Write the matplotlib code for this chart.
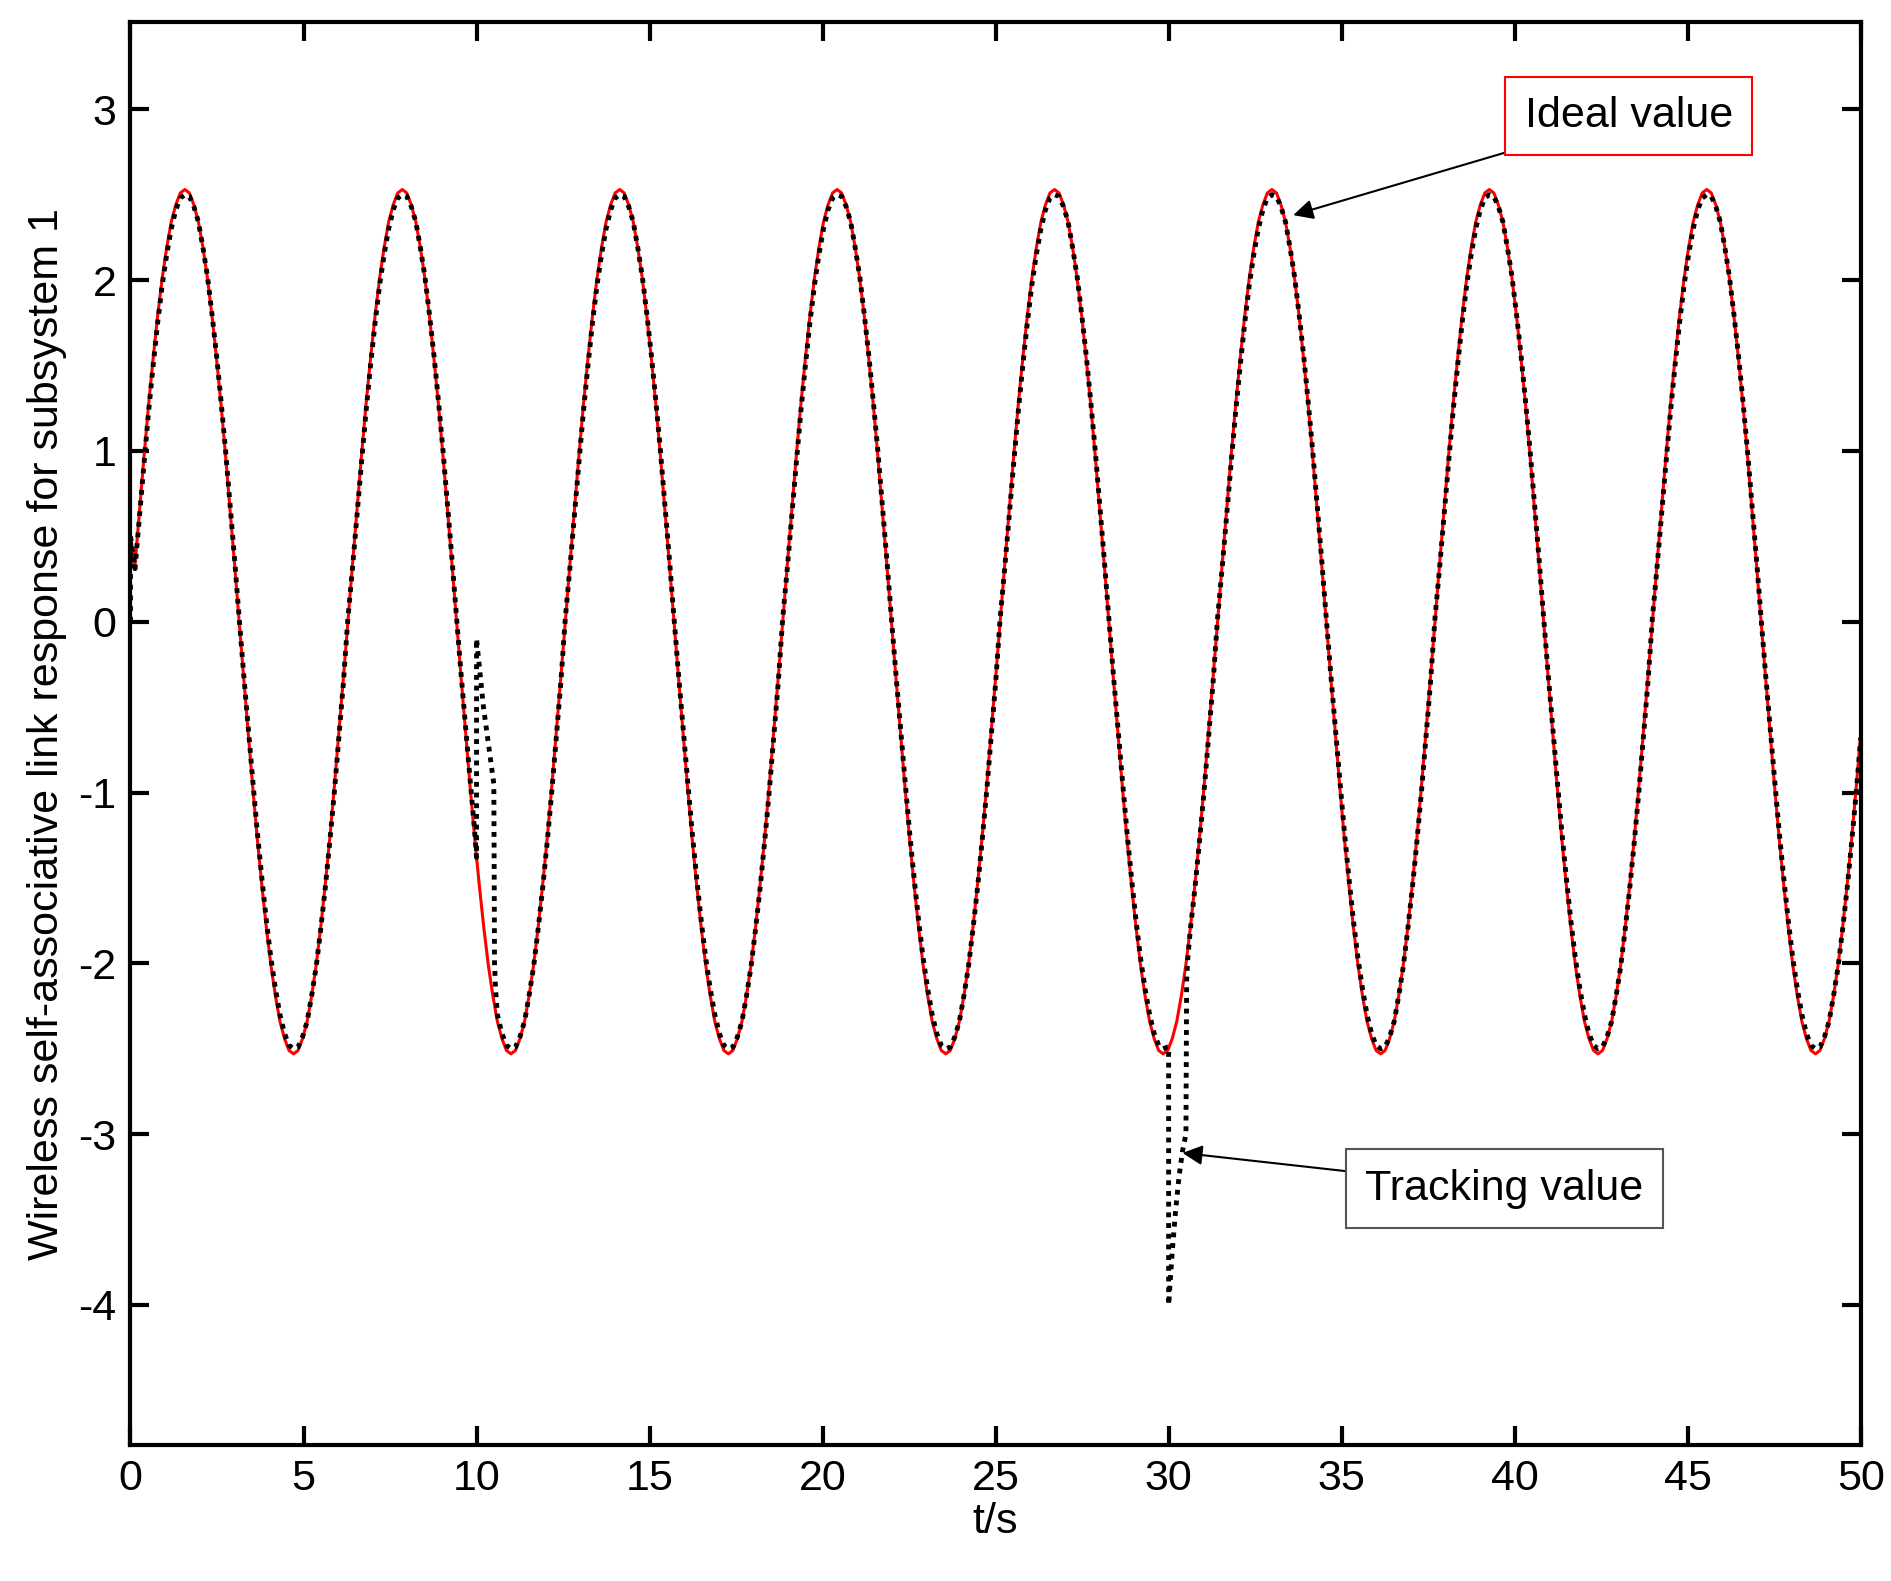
import numpy as np
import matplotlib.pyplot as plt

plt.rcParams['font.family'] = ['Liberation Sans', 'DejaVu Sans']
plt.rcParams['axes.unicode_minus'] = False

# time grid (s), 48 samples per period of the wave
t = np.linspace(0, 50, 383)

# one period of the ideal value (it repeats unchanged)
ideal_period = [0, 0.33, 0.65, 0.97, 1.27, 1.54, 1.79, 2.01, 2.19, 2.34, 2.44, 2.51,
                2.53, 2.51, 2.44, 2.34, 2.19, 2.01, 1.79, 1.54, 1.27, 0.97, 0.65, 0.33,
                0, -0.33, -0.65, -0.97, -1.27, -1.54, -1.79, -2.01, -2.19, -2.34, -2.44, -2.51,
                -2.53, -2.51, -2.44, -2.34, -2.19, -2.01, -1.79, -1.54, -1.27, -0.97, -0.65, -0.33]
# one period of the tracking value (black dots, slightly inside the red)
track_period = [0.02, 0.31, 0.62, 0.93, 1.23, 1.50, 1.75, 1.97, 2.15, 2.30, 2.41, 2.48,
                2.50, 2.49, 2.43, 2.34, 2.19, 2.02, 1.80, 1.56, 1.29, 1.00, 0.68, 0.36,
                0.02, -0.31, -0.62, -0.93, -1.23, -1.50, -1.75, -1.97, -2.15, -2.30, -2.41, -2.48,
                -2.50, -2.49, -2.43, -2.34, -2.19, -2.02, -1.80, -1.56, -1.29, -1.00, -0.68, -0.36]
n_periods = 8
ideal_start = 0.5

# disturbances in the tracking response
start_t = [0.0, 0.0]
start_y = [0.0, 0.5]
dist1_t = [10.0, 10.0, 10.1, 10.2, 10.3, 10.4, 10.5, 10.52, 10.55]
dist1_y = [-1.38, -0.1, -0.3, -0.5, -0.65, -0.8, -0.95, -2.0, -2.15]
dist2_t = [30.0, 30.0, 30.1, 30.2, 30.3, 30.4, 30.5, 30.52, 30.55]
dist2_y = [-2.49, -4.0, -3.7, -3.45, -3.25, -3.1, -3.0, -2.1, -1.98]

ideal = np.tile(ideal_period, n_periods)[:len(t)]
ideal[0] = ideal_start
tracking = np.tile(track_period, n_periods)[:len(t)]

m1 = t < 10.0
m2 = (t > 10.55) & (t < 30.0)
m3 = t > 30.55
track_t = np.concatenate([start_t, t[m1][1:], dist1_t, t[m2], dist2_t, t[m3]])
track_y = np.concatenate([start_y, tracking[m1][1:], dist1_y, tracking[m2], dist2_y, tracking[m3]])

fig = plt.figure(figsize=(18.91, 15.81), dpi=100)
ax = fig.add_axes([0.069, 0.086, 0.915, 0.9])
ax.plot(t, ideal, color='red', lw=2.2, zorder=2)
ax.plot(track_t, track_y, color='black', ls=(0, (1, 1.2)), lw=3.5, zorder=3)

ax.set_xlim(0, 50)
ax.set_ylim(-4.82, 3.51)
ax.set_xticks(np.arange(0, 51, 5))
ax.set_yticks(np.arange(-4, 4, 1))
ax.tick_params(direction='in', length=14, width=3, labelsize=31, top=True, right=True, pad=10)
for s in ax.spines.values():
    s.set_linewidth(3)
ax.set_xlabel('t/s', fontsize=31, labelpad=2)
ax.set_ylabel('Wireless self-associative link response for subsystem 1', fontsize=31, labelpad=8)

ax.annotate('Ideal value', xy=(33.6, 2.38), xytext=(43.3, 2.96), fontsize=31,
            ha='center', va='center',
            bbox=dict(boxstyle='square,pad=0.45', fc='white', ec='red', lw=1.5),
            arrowprops=dict(arrowstyle='-|>', color='black', lw=1.5, mutation_scale=30,
                            shrinkA=0, shrinkB=0))
ax.annotate('Tracking value', xy=(30.4, -3.11), xytext=(39.7, -3.32), fontsize=31,
            ha='center', va='center',
            bbox=dict(boxstyle='square,pad=0.45', fc='white', ec='#555555', lw=1.5),
            arrowprops=dict(arrowstyle='-|>', color='black', lw=1.5, mutation_scale=30,
                            shrinkA=0, shrinkB=0))

fig.savefig('out.png', dpi=100)
